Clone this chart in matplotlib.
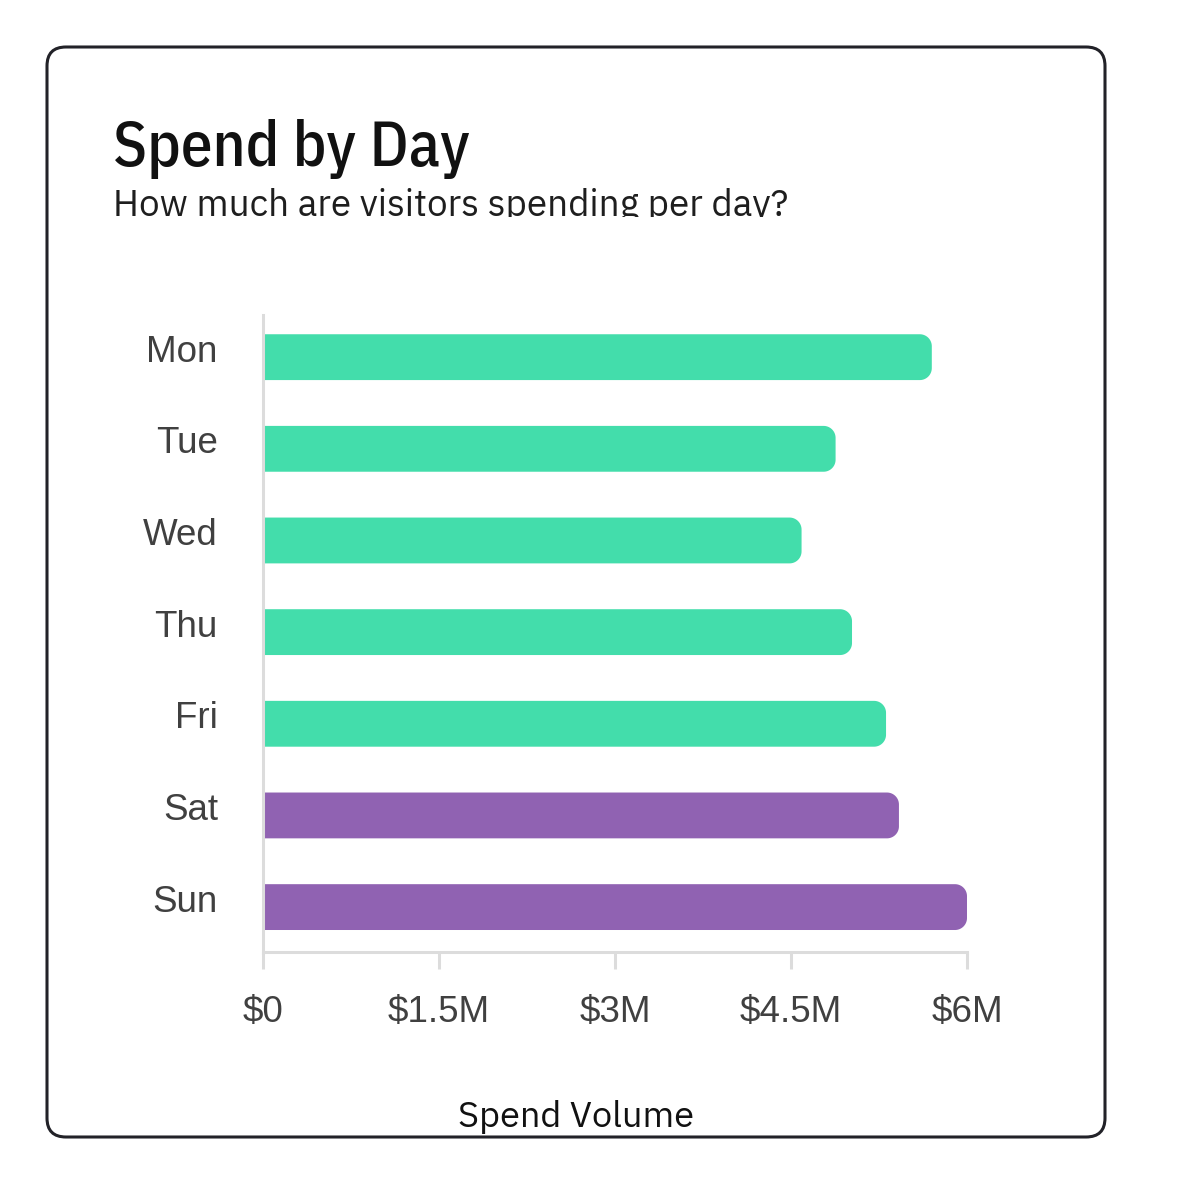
import numpy as np
import matplotlib
matplotlib.use('Agg')
import matplotlib.pyplot as plt
from matplotlib.patches import FancyBboxPatch, Polygon
from matplotlib import font_manager
from matplotlib.transforms import Bbox, TransformedBbox, ScaledTranslation

# ---- data ----
days = ['Mon', 'Tue', 'Wed', 'Thu', 'Fri', 'Sat', 'Sun']
spend = [5.70e6, 4.88e6, 4.59e6, 5.02e6, 5.31e6, 5.42e6, 6.00e6]
day_type = ['weekday', 'weekday', 'weekday', 'weekday', 'weekday', 'weekend', 'weekend']
tick_values = [0, 1.5e6, 3e6, 4.5e6, 6e6]
tick_labels = ['$0', '$1.5M', '$3M', '$4.5M', '$6M']
title = 'Spend by Day'
subtitle = 'How much are visitors spending per day?'
xlabel = 'Spend Volume'

# ---- styles ----
type_colors = {'weekday': '#43DDAB', 'weekend': '#9062B2'}
axis_grey = '#dcdcdc'
label_grey = '#404040'

fonts = font_manager.fontManager.ttflist
available = {f.name for f in fonts}
def pick(*names):
    for n in names:
        if n in available:
            return n
    return 'DejaVu Sans'

title_font = pick('IBM Plex Sans Condensed', 'Roboto Condensed', 'Liberation Sans Narrow', 'Roboto')
body_font = pick('IBM Plex Sans', 'Roboto', 'Lato', 'DejaVu Sans')
tick_font = pick('Liberation Sans', 'Arial', 'DejaVu Sans')

W, H, DPI = 1184, 1200, 100
fig = plt.figure(figsize=(W / DPI, H / DPI), dpi=DPI)
fig.patch.set_facecolor('white')

# outer rounded frame
frame = FancyBboxPatch((47 / W, 1 - 1137 / H), (1105 - 47) / W, (1137 - 47) / H,
                       boxstyle='round,pad=0,rounding_size=0.016',
                       mutation_aspect=W / H,
                       transform=fig.transFigure, facecolor='none',
                       edgecolor='#222228', linewidth=2.2, zorder=10)
fig.patches.append(frame)

ax_w_px, ax_h_px = 704, 637
ax = fig.add_axes([263 / W, 1 - 952 / H, ax_w_px / W, ax_h_px / H])
ypos = list(range(len(days)))
ax.set_xlim(0, 6e6)
ax.set_ylim(6.49, -0.46)

bars = ax.barh(ypos, spend, height=0.5,
               color=[type_colors[t] for t in day_type])

# replace each bar by a shape with rounded right end (radius in pixels)
xu = (ax.get_xlim()[1] - ax.get_xlim()[0]) / ax_w_px
yu = abs(ax.get_ylim()[0] - ax.get_ylim()[1]) / ax_h_px
r_px = 12
rx, ry = r_px * xu, r_px * yu
for bar, t in zip(bars, day_type):
    x0, y0 = bar.get_x(), bar.get_y()
    x1, y1 = x0 + bar.get_width(), y0 + bar.get_height()
    c = type_colors[t]
    bar.remove()
    a1 = np.linspace(-np.pi / 2, 0, 20)
    a2 = np.linspace(0, np.pi / 2, 20)
    pts = [(x0, y0)]
    pts += [(x1 - rx + rx * np.cos(a), y0 + ry + ry * np.sin(a)) for a in a1]
    pts += [(x1 - rx + rx * np.cos(a), y1 - ry + ry * np.sin(a)) for a in a2]
    pts += [(x0, y1)]
    ax.add_patch(Polygon(pts, closed=True, facecolor=c, edgecolor='none'))

ax.set_yticks(ypos)
ax.set_yticklabels(days)
ax.set_xticks(tick_values)
ax.set_xticklabels(tick_labels)

for s in ['top', 'right']:
    ax.spines[s].set_visible(False)
for s in ['left', 'bottom']:
    ax.spines[s].set_color(axis_grey)
    ax.spines[s].set_linewidth(2.2)
    ax.spines[s].set_zorder(3)

ax.tick_params(axis='y', length=0, pad=32.5, labelsize=26.5, labelcolor=label_grey)
ax.tick_params(axis='x', length=12, width=2.2, color=axis_grey, pad=19,
               labelsize=26.5, labelcolor=label_grey)
up = ScaledTranslation(0, 9 / DPI, fig.dpi_scale_trans)
for lab in ax.get_yticklabels():
    lab.set_fontfamily(tick_font)
    lab.set_transform(lab.get_transform() + up)
for lab in ax.get_xticklabels():
    lab.set_fontfamily(tick_font)

# titles
fig.text(113 / W, 1 - 166 / H, title, fontsize=45.5, fontweight='medium',
         family=title_font, color='#111111', va='baseline', ha='left')
sub = fig.text(113 / W, 1 - 216 / H, subtitle, fontsize=26.5, fontweight='light',
               family=body_font, color='#1e1e1e', va='baseline', ha='left')
sub.set_clip_box(TransformedBbox(Bbox([[0, 1 - 217 / H], [1, 1]]), fig.transFigure))
sub.set_clip_on(True)

xl = fig.text(576 / W, 1 - 1127 / H, xlabel, fontsize=26, family=body_font,
              color='#111111', va='baseline', ha='center')
xl.set_clip_box(TransformedBbox(Bbox([[0, 1 - 1136 / H], [1, 1]]), fig.transFigure))
xl.set_clip_on(True)

fig.savefig('out.png', dpi=DPI, facecolor='white')
